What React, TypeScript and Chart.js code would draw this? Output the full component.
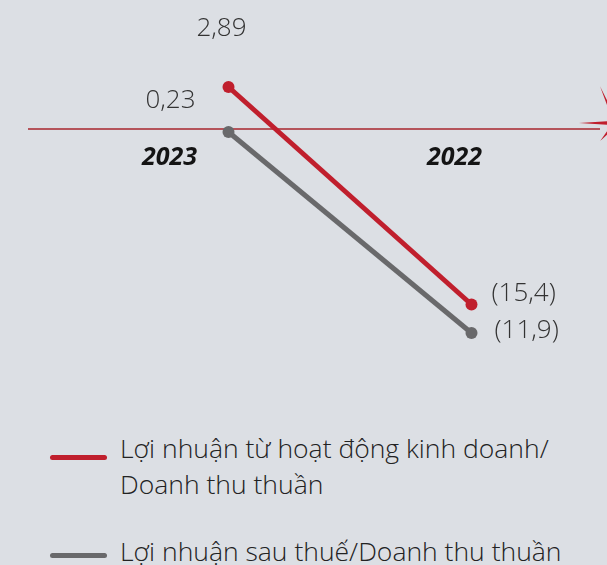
import React, { useEffect, useRef } from "react";
import { Chart, registerables } from "chart.js";
Chart.register(...registerables);

// Categories (as shown left to right)
const years = ["2023", "2022"];
// Displayed value labels (%), as printed on the chart
const operatingMarginLabels = ["2,89", "(15,4)"];
const netMarginLabels = ["0,23", "(11,9)"];
// Plotted positions (the original is not drawn to scale)
const operatingMarginPlotted = [2.8, -11.7];
const netMarginPlotted = [-0.2, -13.6];
// Legend names
const seriesNames = [
  "Lợi nhuận từ hoạt động kinh doanh/\nDoanh thu thuần",
  "Lợi nhuận sau thuế/Doanh thu thuần",
];

const RED = "#c01f2d";
const GRAY = "#69696b";
const AXIS_RED = "#a8262e";
const BG = "#dcdfe4";
const FONT = "'Open Sans', 'Noto Sans', sans-serif";

// label offsets relative to each point [dataset][index]: dx, dy, align
const labelOffsets = [
  [
    { dx: -7, dy: -58, align: "center" },
    { dx: 20, dy: -11, align: "left" },
  ],
  [
    { dx: -58, dy: -31, align: "center" },
    { dx: 23, dy: -2, align: "left" },
  ],
];
const categoryOffsets = [-59, -17];

export default function App() {
  const ref = useRef<HTMLCanvasElement | null>(null);

  useEffect(() => {
    document.body.style.margin = "0";
    document.body.style.background = BG;
    if (!ref.current) return;

    const decor = {
      id: "decor",
      beforeDatasetsDraw(chart: any) {
        const ctx = chart.ctx;
        const y0 = chart.scales.y.getPixelForValue(0);
        ctx.save();
        // baseline
        ctx.strokeStyle = AXIS_RED;
        ctx.lineWidth = 1.3;
        ctx.beginPath();
        ctx.moveTo(28, y0);
        ctx.lineTo(600, y0);
        ctx.stroke();
        // starburst at right edge
        const cx = 616, cy = y0 - 6;
        const spikes = [
          { a: Math.PI, r: 37 },
          { a: Math.PI + 1.16, r: 40 },
          { a: Math.PI - 0.85, r: 24 },
          { a: -Math.PI / 2 + 0.2, r: 30 },
          { a: Math.PI / 2, r: 30 },
          { a: 0, r: 30 },
        ];
        ctx.fillStyle = RED;
        ctx.beginPath();
        const sorted = spikes.slice().sort((p, q) => p.a - q.a);
        sorted.forEach((s, i) => {
          const a0 = s.a - 0.22, a1 = s.a + 0.22;
          const ri = 8;
          const px = cx + Math.cos(s.a) * s.r, py = cy + Math.sin(s.a) * s.r;
          if (i === 0) ctx.moveTo(cx + Math.cos(a0) * ri, cy + Math.sin(a0) * ri);
          else ctx.lineTo(cx + Math.cos(a0) * ri, cy + Math.sin(a0) * ri);
          ctx.lineTo(px, py);
          ctx.lineTo(cx + Math.cos(a1) * ri, cy + Math.sin(a1) * ri);
        });
        ctx.closePath();
        ctx.fill();
        // category labels
        ctx.fillStyle = "#141414";
        ctx.font = `italic bold 25px ${FONT}`;
        ctx.textAlign = "center";
        ctx.textBaseline = "middle";
        years.forEach((yr, i) => {
          const x = chart.scales.x.getPixelForValue(i) + categoryOffsets[i];
          ctx.fillText(yr, x, y0 + 29);
        });
        ctx.restore();
      },
      afterDatasetsDraw(chart: any) {
        const ctx = chart.ctx;
        const labelSets = [operatingMarginLabels, netMarginLabels];
        ctx.save();
        ctx.fillStyle = "#333333";
        ctx.font = `300 26px ${FONT}`;
        ctx.textBaseline = "middle";
        labelSets.forEach((labels, di) => {
          const meta = chart.getDatasetMeta(di);
          labels.forEach((txt, i) => {
            const p = meta.data[i];
            const o = labelOffsets[di][i];
            ctx.textAlign = o.align;
            ctx.fillText(txt, p.x + o.dx, p.y + o.dy);
          });
        });
        ctx.restore();
      },
    };

    const chart = new Chart(ref.current, {
      type: "line",
      data: {
        labels: years,
        datasets: [
          {
            label: seriesNames[0],
            data: operatingMarginPlotted,
            borderColor: RED,
            backgroundColor: RED,
            borderWidth: 5,
            pointRadius: 6,
            pointBackgroundColor: RED,
            pointBorderWidth: 0,
          },
          {
            label: seriesNames[1],
            data: netMarginPlotted,
            borderColor: GRAY,
            backgroundColor: GRAY,
            borderWidth: 5,
            pointRadius: 6,
            pointBackgroundColor: GRAY,
            pointBorderWidth: 0,
          },
        ],
      },
      options: {
        animation: false,
        responsive: false,
        maintainAspectRatio: false,
        layout: { autoPadding: false, padding: { left: 107, right: 14, top: 0, bottom: 0 } },
        plugins: { legend: { display: false }, tooltip: { enabled: false } },
        scales: {
          x: { display: false, offset: true },
          y: { display: false, min: -19.4, max: 8.6 },
        },
      },
      plugins: [decor],
    } as any);
    return () => chart.destroy();
  }, []);

  const legendItem = (color: string, text: string, top: number, lineTop: number) => (
    <div>
      <div
        style={{
          position: "absolute",
          left: 50,
          top: lineTop,
          width: 57,
          height: 5,
          borderRadius: 3,
          background: color,
        }}
      />
      <div
        style={{
          position: "absolute",
          left: 120,
          top,
          fontFamily: FONT,
          fontWeight: 300,
          fontSize: 26.5,
          lineHeight: "36px",
          color: "#222",
          whiteSpace: "pre-line",
        }}
      >
        {text}
      </div>
    </div>
  );

  return (
    <div
      style={{
        position: "absolute",
        left: 0,
        top: 0,
        width: 607,
        height: 565,
        background: BG,
        overflow: "hidden",
      }}
    >
      <canvas ref={ref} width={607} height={420} style={{ position: "absolute", left: 0, top: 0 }} />
      {legendItem(RED, seriesNames[0], 430, 455)}
      {legendItem(GRAY, seriesNames[1], 533, 553)}
    </div>
  );
}
